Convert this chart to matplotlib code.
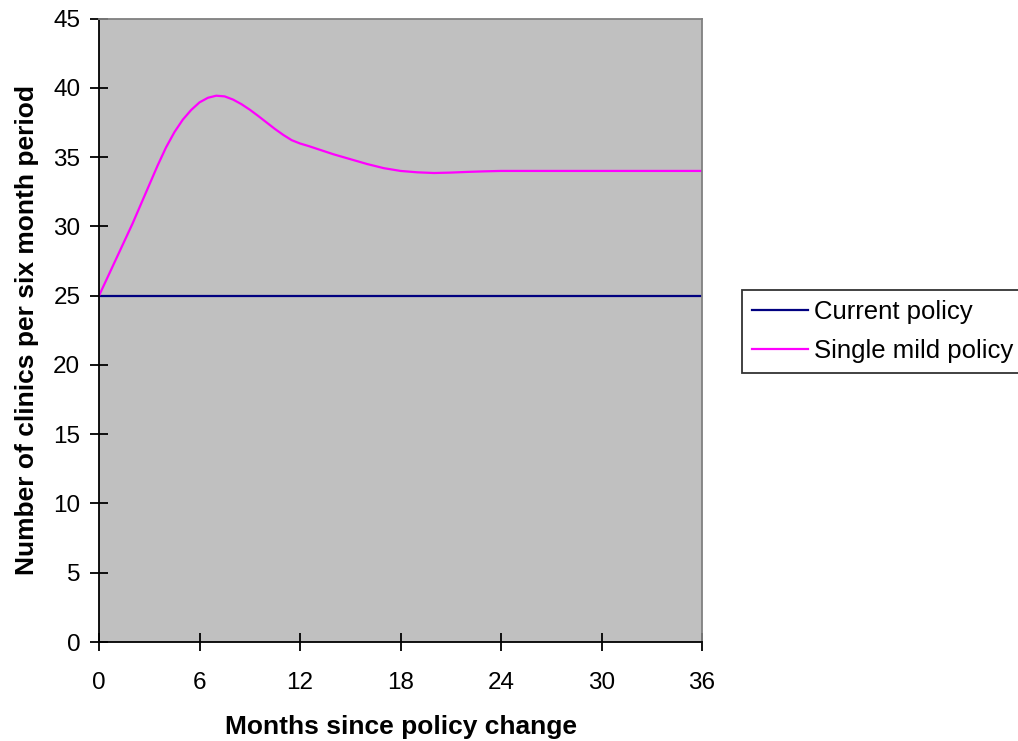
import matplotlib
matplotlib.use("Agg")
import matplotlib.pyplot as plt

# months since change and clinic counts (finer near the peak)
months = [0, 0.5, 1, 1.5, 2, 2.5, 3, 3.5, 4, 4.5, 5, 5.5, 6, 6.5, 7, 7.5, 8, 8.5,
          9, 9.5, 10, 10.5, 11, 11.5, 12, 12.5, 13, 13.5, 14, 15, 16, 17, 18, 19,
          20, 21, 22, 23, 24, 25, 26, 27, 28, 29, 30, 31, 32, 33, 34, 35, 36]
single_mild = [25.0, 26.3, 27.6, 28.9, 30.2, 31.6, 33.0, 34.4, 35.7, 36.8, 37.7,
               38.4, 38.95, 39.28, 39.43, 39.38, 39.15, 38.82, 38.42, 37.97, 37.5,
               37.03, 36.6, 36.22, 35.98, 35.8, 35.6, 35.4, 35.2, 34.85, 34.5, 34.2,
               34.0, 33.9, 33.85, 33.88, 33.93, 33.97, 34.0, 34.0, 34.0, 34.0, 34.0,
               34.0, 34.0, 34.0, 34.0, 34.0, 34.0, 34.0, 34.0]
current_policy = [25] * len(months)
x_ticks = [0, 6, 12, 18, 24, 30, 36]
y_ticks = [0, 5, 10, 15, 20, 25, 30, 35, 40, 45]

plt.rcParams["font.family"] = ["Liberation Sans", "DejaVu Sans"]

fig = plt.figure(figsize=(10.18, 7.41), dpi=100)
ax = fig.add_axes([0.0973, 0.1336, 0.5923, 0.8414])
ax.set_facecolor("#c0c0c0")

ax.plot(months, current_policy, color="#000080", lw=1.6, label="Current policy")
ax.plot(months, single_mild, color="#ff00ff", lw=1.6, label="Single mild policy")

ax.set_xlim(0, 36)
ax.set_ylim(0, 45)
ax.set_xticks(x_ticks)
ax.set_yticks(y_ticks)
ax.tick_params(direction="inout", length=13, width=1.3, labelsize=17.5)
ax.tick_params(axis="x", pad=15)
ax.tick_params(axis="y", pad=7)

for side in ["top", "right"]:
    ax.spines[side].set_color("#808080")
    ax.spines[side].set_linewidth(1.3)
for side in ["left", "bottom"]:
    ax.spines[side].set_color("black")
    ax.spines[side].set_linewidth(1.3)

ax.set_xlabel("Months since policy change", fontsize=19, fontweight="bold", va="center")
ax.xaxis.set_label_coords(0.5, -0.137)
ax.set_ylabel("Number of clinics per six month period", fontsize=19, fontweight="bold", va="center")
ax.yaxis.set_label_coords(-0.12, 0.5)

leg = fig.legend(loc="upper left", bbox_to_anchor=(742 / 1018, 1 - 290 / 741), fontsize=18.5,
                 frameon=True, fancybox=False, edgecolor="black", handlelength=2.15,
                 borderpad=0.4, labelspacing=0.58, handletextpad=0.25, borderaxespad=0)
leg.get_frame().set_linewidth(1.3)

fig.savefig("out.png", dpi=100)
